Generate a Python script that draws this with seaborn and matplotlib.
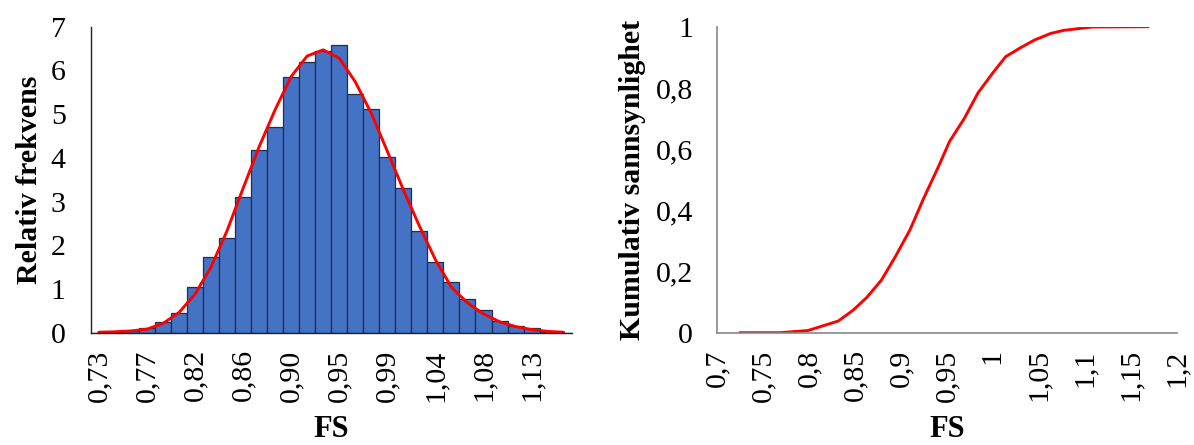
import numpy as np
import pandas as pd
import matplotlib
matplotlib.use("Agg")
import matplotlib.pyplot as plt
import seaborn as sns

# Histogram bins of the factor of safety (bin centre labels)
fs_bins = ["0,73", "0,74", "0,76", "0,77", "0,79", "0,80", "0,82", "0,83", "0,85", "0,86",
           "0,88", "0,89", "0,90", "0,92", "0,93", "0,95", "0,96", "0,98", "0,99", "1,01",
           "1,02", "1,04", "1,05", "1,07", "1,08", "1,10", "1,11", "1,13", "1,14", "1,16"]

# Relative frequency per bin
rel_freq = [0.00, 0.01, 0.03, 0.11, 0.25, 0.44, 1.04, 1.72, 2.17, 3.11,
            4.18, 4.70, 5.84, 6.19, 6.44, 6.58, 5.46, 5.11, 4.03, 3.32,
            2.33, 1.61, 1.15, 0.76, 0.53, 0.26, 0.15, 0.11, 0.02, 0.00]

# Fitted density evaluated at each bin
fitted_pdf = [0.01, 0.02, 0.04, 0.08, 0.21, 0.46, 0.88, 1.50, 2.33, 3.30,
              4.25, 5.10, 5.86, 6.33, 6.47, 6.28, 5.74, 5.02, 4.15, 3.27,
              2.44, 1.67, 1.04, 0.68, 0.43, 0.25, 0.14, 0.07, 0.03, 0.01]

# Cumulative probability curve
cdf_fs = [0.725, 0.769, 0.799, 0.832, 0.848, 0.863, 0.879, 0.894, 0.910, 0.925, 0.941,
          0.953, 0.969, 0.984, 1.000, 1.014, 1.030, 1.045, 1.063, 1.077, 1.108, 1.169]
cdf_prob = [0.000, 0.000, 0.007, 0.038, 0.073, 0.115, 0.172, 0.248, 0.336, 0.440, 0.543,
            0.625, 0.700, 0.784, 0.849, 0.902, 0.931, 0.956, 0.978, 0.988, 0.999, 1.000]

left_yticks = [0, 1, 2, 3, 4, 5, 6, 7]
right_xticks = [0.7, 0.75, 0.8, 0.85, 0.9, 0.95, 1.0, 1.05, 1.1, 1.15, 1.2]
right_yticks = [0, 0.2, 0.4, 0.6, 0.8, 1.0]


def comma(v):
    s = f"{v:.2f}".rstrip("0").rstrip(".")
    return s.replace(".", ",")


sns.set_theme(style="white")
plt.rcParams["font.family"] = ["Liberation Serif", "DejaVu Serif"]
plt.rcParams["font.size"] = 21.5
plt.rcParams["text.color"] = "black"
plt.rcParams["axes.labelcolor"] = "black"

fig = plt.figure(figsize=(11.94, 4.45), dpi=100)
ax1 = fig.add_axes([0.0760, 0.2524, 0.4028, 0.6876])
ax2 = fig.add_axes([0.6003, 0.2524, 0.3853, 0.6876])

# ---- Left panel: histogram with fitted density ----
hist_df = pd.DataFrame({"FS": fs_bins, "freq": rel_freq})
sns.barplot(data=hist_df, x="FS", y="freq", order=fs_bins, color="#4472C4",
            saturation=1, width=1.0, edgecolor="#1E2F4F", linewidth=0.9, ax=ax1)
sns.lineplot(x=np.arange(len(fs_bins)), y=fitted_pdf, color="#FF0000",
             linewidth=2.1, ax=ax1)

ax1.set_xlim(-0.5, len(fs_bins) - 0.5)
ax1.set_ylim(0, 7)
ax1.set_yticks(left_yticks)
ax1.set_yticklabels([str(t) for t in left_yticks])
label_pos = list(range(0, len(fs_bins), 3))
ax1.set_xticks(label_pos)
ax1.set_xticklabels([fs_bins[i] for i in label_pos], rotation=90)
ax1.tick_params(axis="x", length=0, pad=12, labelsize=21.5, labelcolor="black")
ax1.tick_params(axis="y", direction="in", length=8, width=1, color="#555555",
                pad=18, labelsize=21.5, labelcolor="black")
for side in ("top", "right"):
    ax1.spines[side].set_visible(False)
for side in ("left", "bottom"):
    ax1.spines[side].set_color("#222222")
    ax1.spines[side].set_linewidth(1.0)
ax1.set_xlabel("FS", fontweight="bold", fontsize=22)
ax1.set_ylabel("Relativ frekvens", fontweight="bold", fontsize=21.5)
ax1.yaxis.set_label_coords(-0.1, 0.5)
ax1.xaxis.set_label_coords(0.5, -0.27)

# ---- Right panel: cumulative probability ----
sns.lineplot(x=cdf_fs, y=cdf_prob, color="#FF0000", linewidth=2.1, ax=ax2,
             sort=False)
ax2.set_xlim(0.7, 1.2)
ax2.set_ylim(0, 1)
ax2.set_xticks(right_xticks)
ax2.set_xticklabels([comma(t) for t in right_xticks], rotation=90)
ax2.set_yticks(right_yticks)
ax2.set_yticklabels([comma(t) for t in right_yticks])
ax2.tick_params(axis="both", direction="in", length=8, width=1, color="#888888",
                labelsize=21.5, labelcolor="black")
ax2.tick_params(axis="x", pad=12)
ax2.tick_params(axis="y", pad=17)
for side in ("top", "right"):
    ax2.spines[side].set_visible(False)
for side in ("left", "bottom"):
    ax2.spines[side].set_color("#888888")
    ax2.spines[side].set_linewidth(1.2)
ax2.set_xlabel("FS", fontweight="bold", fontsize=22)
ax2.set_ylabel("Kumulativ sannsynlighet", fontweight="bold", fontsize=21.5)
ax2.yaxis.set_label_coords(-0.154, 0.5)
ax2.xaxis.set_label_coords(0.5, -0.27)

fig.savefig("out.png", dpi=100)
